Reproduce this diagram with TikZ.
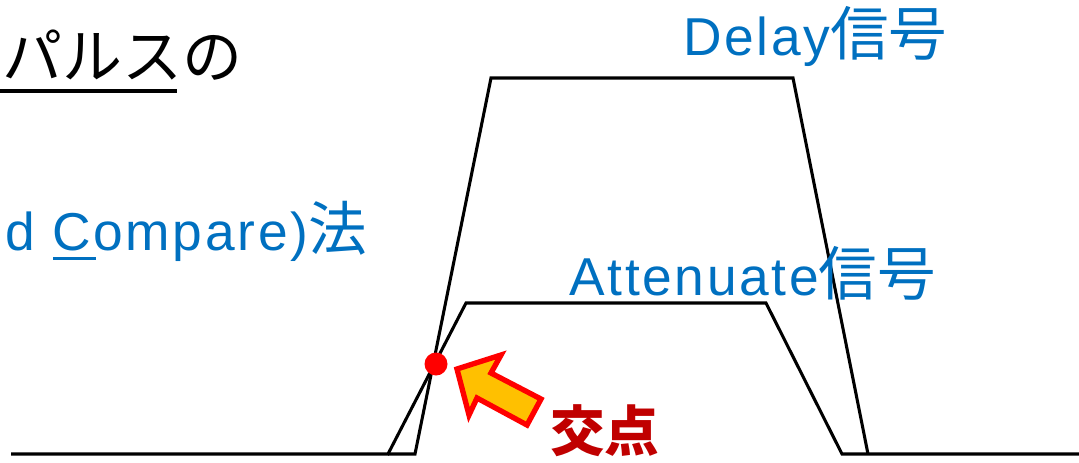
\documentclass[tikz,border=0pt]{standalone}
\usepackage{fontspec}
\setmainfont{Liberation Sans}
\newfontfamily\jp{Noto Sans CJK JP}
\newfontfamily\lat[LetterSpace=5]{Liberation Sans}
\definecolor{txtblue}{HTML}{0070C0}
\definecolor{darkred}{HTML}{C00000}
\definecolor{arrowfill}{HTML}{FFC000}
\newcommand{\jpbig}[1]{{\jp\fontsize{44}{50}\selectfont #1}}
\begin{document}
\begin{tikzpicture}[x=0.75pt,y=-0.75pt,
  sig/.style={line width=2.3pt,line join=miter,black},
  bluelbl/.style={anchor=base west,inner sep=0pt,text=txtblue,font=\lat\fontsize{40}{48}\selectfont},
]
\useasboundingbox (0,0) rectangle (1079,462);
% baseline and pulses
\coordinate (b0) at (11,454);
\coordinate (bend) at (1079,454);
\coordinate (a0) at (388,454);
\coordinate (a1) at (466,303);
\coordinate (a2) at (766,303);
\coordinate (a3) at (842,454);
\coordinate (d0) at (415,454);
\coordinate (d1) at (491,78);
\coordinate (d2) at (793,78);
\coordinate (d3) at (868,454);
\draw[sig] (b0) -- (a0) -- (a1) -- (a2) -- (a3) -- (d3) -- (bend);
\draw[sig] (a0) -- (d0) -- (d1) -- (d2) -- (d3);
% texts
\node[bluelbl] (delay) at (683,55) {Delay\jpbig{信号}};
\node[bluelbl] (att) at (569,295) {Attenuate\jpbig{信号}};
\node[bluelbl] (cmp) at (5,250) {d Compare)\jpbig{法}};
\draw[txtblue,line width=2.3pt] (53,258.5) -- (96,258.5);
\node[anchor=base west,inner sep=0pt,font=\jp\fontsize{45}{54}\selectfont] (pulse) at (2,78) {パルスの};
\draw[black,line width=3pt] (0,91) -- (177,91);
\node[anchor=base west,inner sep=0pt,text=darkred,font=\jp\bfseries\fontsize{41}{50}\selectfont] (kouten) at (550,451) {交点};
% intersection dot
\fill[red] (436,364) circle[radius=11.5];
\node[circle,inner sep=0pt,minimum size=23*0.75pt] (dot) at (436,364) {};
% arrow
\draw[red,line width=4pt,fill=arrowfill,line join=miter]
  (457,369) -- (501,355) -- (491,373) -- (541,399) -- (527,425) -- (477,398) -- (469,415) -- cycle;
\end{tikzpicture}
\end{document}
